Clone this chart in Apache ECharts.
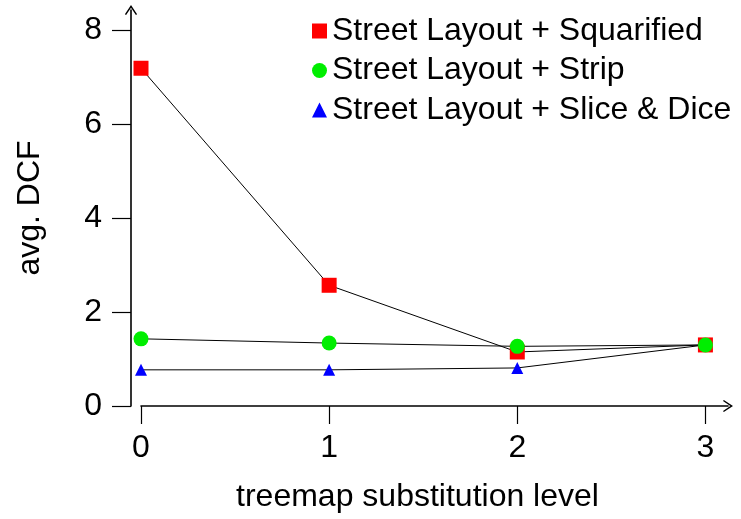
<!DOCTYPE html>
<html>
<head>
<meta charset="utf-8">
<script src="https://cdn.jsdelivr.net/npm/echarts@6/dist/echarts.min.js"></script>
<style>
  html, body { margin: 0; padding: 0; background: #fff; }
  #chart { width: 741px; height: 519px; }
</style>
</head>
<body>
<div id="chart"></div>
<script>
const levels = [0, 1, 2, 3]
const squarified = [7.19, 2.57, 1.15, 1.30]
const strip = [1.43, 1.34, 1.27, 1.30]
const sliceDice = [0.77, 0.77, 0.81, 1.30]
const xTicks = [0, 1, 2, 3]
const yTicks = [0, 2, 4, 6, 8]

const font = 'Liberation Sans'
const arrow = 'path://M0,9 L6,0 L12,9 L10.8,9.8 L6,2.6 L1.2,9.8 Z'

function pairs(vals) {
  return levels.map((x, i) => [x, vals[i]])
}

let myChart = echarts.init(document.getElementById('chart'))

let option = {
  animation: false,
  textStyle: { fontFamily: font },
  grid: { left: 141, right: 13, top: 10, bottom: 113 },
  legend: {
    orient: 'vertical',
    left: 312,
    top: 15,
    padding: 0,
    itemWidth: 15,
    itemHeight: 15,
    itemGap: 7.5,
    textStyle: { fontSize: 32, color: '#000', fontFamily: font },
    data: [
      { name: 'Street Layout + Squarified', icon: 'rect' },
      { name: 'Street Layout + Strip', icon: 'circle' },
      { name: 'Street Layout + Slice & Dice', icon: 'triangle' }
    ]
  },
  xAxis: {
    type: 'value',
    min: 0,
    max: 3.12,
    name: 'treemap substitution level',
    nameLocation: 'middle',
    nameGap: 75,
    nameTextStyle: { fontSize: 32, color: '#000', padding: [0, 34, 0, 0] },
    splitLine: { show: false },
    axisLine: {
      onZero: false,
      lineStyle: { color: '#000', width: 1.6 },
      symbol: ['none', arrow],
      symbolSize: [14, 10]
    },
    axisTick: { inside: false, length: 18, customValues: xTicks, lineStyle: { color: '#000', width: 1.2 } },
    axisLabel: { customValues: xTicks, fontSize: 32, color: '#000', margin: 26 }
  },
  yAxis: {
    type: 'value',
    min: 0,
    max: 8.43,
    offset: 10,
    name: 'avg. DCF',
    nameLocation: 'middle',
    nameGap: 85,
    nameTextStyle: { fontSize: 32, color: '#000' },
    splitLine: { show: false },
    axisLine: {
      show: true,
      onZero: false,
      lineStyle: { color: '#000', width: 1.6 },
      symbol: ['none', arrow],
      symbolSize: [14, 10]
    },
    axisTick: { show: true, inside: false, length: 19, customValues: yTicks, lineStyle: { color: '#000', width: 1.2 } },
    axisLabel: { customValues: yTicks, fontSize: 32, color: '#000', margin: 29 }
  },
  series: [
    {
      name: 'Street Layout + Slice & Dice',
      type: 'line',
      data: pairs(sliceDice),
      symbol: 'triangle',
      symbolSize: 12,
      z: 2,
      itemStyle: { color: '#0000ff' },
      lineStyle: { color: '#000', width: 1 }
    },
    {
      name: 'Street Layout + Squarified',
      type: 'line',
      data: pairs(squarified),
      symbol: 'rect',
      symbolSize: 15,
      z: 3,
      itemStyle: { color: '#ff0000' },
      lineStyle: { color: '#000', width: 1 }
    },
    {
      name: 'Street Layout + Strip',
      type: 'line',
      data: pairs(strip),
      symbol: 'circle',
      symbolSize: 15,
      z: 4,
      itemStyle: { color: '#00ee00' },
      lineStyle: { color: '#000', width: 1 }
    }
  ]
}

myChart.setOption(option)
</script>
</body>
</html>
